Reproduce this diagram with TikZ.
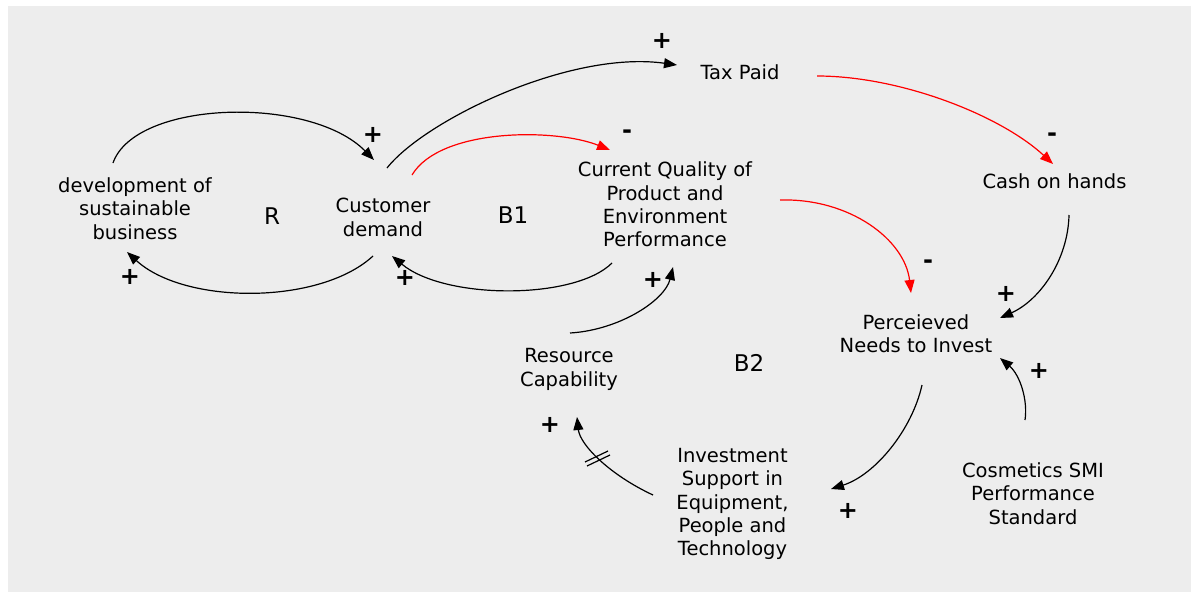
\documentclass[tikz,border=0pt]{standalone}
\usepackage{fontspec}
\setmainfont{DejaVu Sans}
\usetikzlibrary{arrows.meta}
\definecolor{bggray}{HTML}{EDEDED}
\definecolor{linkred}{HTML}{FF0000}
\begin{document}
\begin{tikzpicture}[x=1pt,y=-1pt,
  lbl/.style={align=center, inner sep=0pt, font=\fontsize{19.5}{23.3}\selectfont},
  loopname/.style={inner sep=0pt, font=\fontsize{23}{27}\selectfont},
  sgn/.style={inner sep=0pt, font=\fontsize{24}{28}\selectfont\bfseries},
  link/.style={line width=1.2pt, -{Triangle[length=13pt,width=10pt]}},
  neg/.style={link, color=linkred},
]
\useasboundingbox (0,0) rectangle (1191,592);
\fill[bggray] (8,6) rectangle (1191,592);

% variables
\node[lbl] (dev)  at (135,208.5) {development of\\sustainable\\business};
\node[lbl] (cd)   at (383,217.5) {Customer\\demand};
\node[lbl] (cq)   at (665,204.5) {Current Quality of\\Product and\\Environment\\Performance};
\node[lbl] (tax)  at (740,72)    {Tax Paid};
\node[lbl] (cash) at (1054.5,181.7) {Cash on hands};
\node[lbl] (pn)   at (916,334)   {Perceieved\\Needs to Invest};
\node[lbl] (rc)   at (569,369.5) {Resource\\Capability};
\node[lbl] (inv)  at (732.5,504) {Investment\\Support in\\Equipment,\\People and\\Technology};
\node[lbl] (cos)  at (1033,493.7) {Cosmetics SMI\\Performance\\Standard};

% loop names
\node[loopname] (lR)  at (272,216) {R};
\node[loopname] (lB1) at (513,215) {B1};
\node[loopname] (lB2) at (749,363) {B2};

% links
\draw[link] ([shift={(-22,-45.5)}]dev.center) .. controls +(22,-63) and +(-64,-65) .. ([shift={(-9,-57.5)}]cd.center);
\draw[link] ([shift={(-10,38.5)}]cd.center) .. controls +(-53,49) and +(58,53) .. ([shift={(-8,43.5)}]dev.center);
\draw[link] ([shift={(4,-49.5)}]cd.center) .. controls +(38,-48) and +(-107,-15) .. ([shift={(-63,-7)}]tax.center);
\draw[neg]  ([shift={(29,-42.5)}]cd.center) .. controls +(28,-47) and +(-55,-22) .. ([shift={(-55,-54.5)}]cq.center);
\draw[link] ([shift={(-53,58.5)}]cq.center) .. controls +(-37,37) and +(53,44) .. ([shift={(9,38.5)}]cd.center);
\draw[neg]  ([shift={(77,4)}]tax.center) .. controls +(83,0) and +(-53,-49) .. ([shift={(-1.5,-17.7)}]cash.center);
\draw[neg]  ([shift={(115,-4.5)}]cq.center) .. controls +(70,-2) and +(-6,-53) .. ([shift={(-5,-41)}]pn.center);
\draw[link] ([shift={(14.5,33.3)}]cash.center) .. controls +(-1,45) and +(40,-18) .. ([shift={(84,-16)}]pn.center);
\draw[link] ([shift={(-8,-73.7)}]cos.center) .. controls +(3,-20) and +(20,17) .. ([shift={(84,24)}]pn.center);
\draw[link] ([shift={(6,51)}]pn.center) .. controls +(-10,45) and +(44,-14) .. ([shift={(98.5,-15)}]inv.center);
\draw[link] ([shift={(-79.5,-9)}]inv.center) .. controls +(-43,-20) and +(3,28) .. ([shift={(8,47.5)}]rc.center) coordinate[pos=0.5] (dm);
\draw[link] ([shift={(1,-36.5)}]rc.center) .. controls +(50,-3) and +(-8,33) .. ([shift={(8,62.5)}]cq.center);

% delay mark
\draw[line width=1.2pt] ([shift={(-15,3)}]dm) -- ([shift={(8,-8)}]dm);
\draw[line width=1.2pt] ([shift={(-13,7)}]dm) -- ([shift={(10,-4)}]dm);

% polarities
\node[sgn] (s1)  at (373,135) {+};
\node[sgn] (s2)  at (130,277) {+};
\node[sgn] (s3)  at (662,41)  {+};
\node[sgn] (s4)  at (627,134) {-};
\node[sgn] (s5)  at (405,278) {+};
\node[sgn] (s6)  at (653,280) {+};
\node[sgn] (s7)  at (1052,137) {-};
\node[sgn] (s8)  at (928,264) {-};
\node[sgn] (s9)  at (1006,294) {+};
\node[sgn] (s10) at (1039,371) {+};
\node[sgn] (s11) at (550,425) {+};
\node[sgn] (s12) at (848,511) {+};
\end{tikzpicture}
\end{document}
